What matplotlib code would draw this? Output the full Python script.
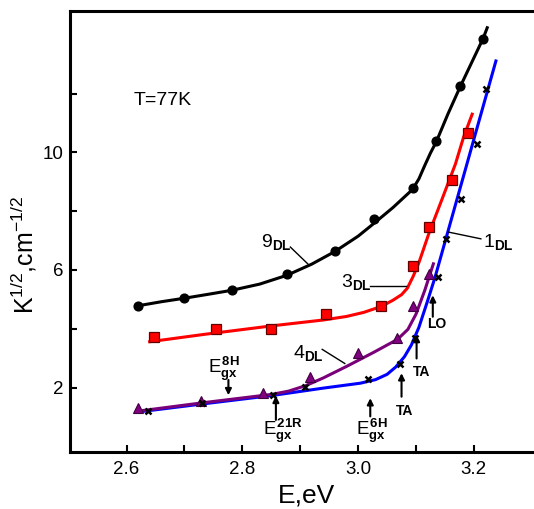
import matplotlib
matplotlib.use('Agg')
import matplotlib.pyplot as plt

plt.rcParams['font.family'] = ['Liberation Sans', 'DejaVu Sans']
plt.rcParams['mathtext.fontset'] = 'custom'
plt.rcParams['mathtext.rm'] = 'Liberation Sans'
plt.rcParams['mathtext.it'] = 'Liberation Sans'
plt.rcParams['mathtext.bf'] = 'Liberation Sans:bold'

# measured points, curve 9DL (black circles)
e_9dl = [2.619, 2.700, 2.782, 2.877, 2.960, 3.027, 3.094, 3.135, 3.176, 3.216]
k_9dl = [4.79, 5.06, 5.33, 5.85, 6.66, 7.73, 8.78, 10.38, 12.25, 13.86]
# fitted line for 9DL
e_9dl_fit = [2.616, 2.660, 2.700, 2.740, 2.782, 2.830, 2.877, 2.920, 2.960, 3.000, 3.027, 3.060, 3.094, 3.105, 3.115, 3.125, 3.135, 3.155, 3.176, 3.196, 3.216, 3.223]
k_9dl_fit = [4.77, 4.92, 5.04, 5.17, 5.31, 5.52, 5.82, 6.20, 6.63, 7.15, 7.58, 8.12, 8.74, 9.10, 9.55, 9.98, 10.36, 11.30, 12.22, 13.05, 13.88, 14.24]

# curve 3DL (red squares)
e_3dl = [2.648, 2.755, 2.849, 2.945, 3.040, 3.094, 3.122, 3.162, 3.189]
k_3dl = [3.71, 3.98, 3.98, 4.52, 4.78, 6.12, 7.46, 9.05, 10.66]
e_3dl_fit = [2.640, 2.734, 2.851, 2.940, 2.980, 3.010, 3.040, 3.060, 3.075, 3.085, 3.095, 3.105, 3.122, 3.144, 3.168, 3.182, 3.197]
k_3dl_fit = [3.56, 3.81, 4.10, 4.30, 4.42, 4.56, 4.76, 4.97, 5.16, 5.38, 5.78, 6.25, 7.23, 8.36, 9.60, 10.51, 11.30]

# curve 4DL (purple triangles)
e_4dl = [2.619, 2.728, 2.836, 2.917, 2.999, 3.067, 3.094, 3.122]
k_4dl = [1.30, 1.55, 1.83, 2.36, 3.16, 3.69, 4.77, 5.85]
e_4dl_fit = [2.628, 2.734, 2.851, 2.880, 2.910, 2.940, 2.980, 3.027, 3.068, 3.086, 3.100, 3.115, 3.130]
k_4dl_fit = [1.22, 1.49, 1.77, 1.88, 2.07, 2.33, 2.72, 3.20, 3.64, 3.98, 4.50, 5.30, 6.21]

# curve 1DL (x markers, blue line)
e_1dl = [2.637, 2.731, 2.853, 2.908, 3.017, 3.072, 3.099, 3.138, 3.151, 3.178, 3.206, 3.221]
k_1dl = [1.21, 1.49, 1.75, 2.03, 2.29, 2.79, 3.67, 5.76, 7.06, 8.40, 10.28, 12.15]
e_1dl_fit = [2.628, 2.734, 2.851, 2.939, 3.004, 3.030, 3.050, 3.065, 3.080, 3.092, 3.105, 3.120, 3.133, 3.150, 3.174, 3.203, 3.221, 3.238]
k_1dl_fit = [1.19, 1.45, 1.73, 1.98, 2.15, 2.27, 2.45, 2.70, 3.05, 3.45, 4.05, 4.95, 5.76, 6.95, 8.63, 10.66, 11.92, 13.11]

fig = plt.figure(figsize=(5.34, 5.09), dpi=100)
# right spine falls just outside the picture, as in the original
ax = fig.add_axes([0.1311, 0.1126, 0.919, 0.8664])

ax.plot(e_9dl_fit, k_9dl_fit, color='black', lw=2.2)
ax.plot(e_3dl_fit, k_3dl_fit, color='#ff0000', lw=2.2)
ax.plot(e_1dl_fit, k_1dl_fit, color='#0000ff', lw=2.2)
ax.plot(e_4dl_fit, k_4dl_fit, color='#7a007a', lw=2.2)

ax.plot(e_9dl, k_9dl, 'o', color='black', ms=6.3)
ax.plot(e_3dl, k_3dl, 's', mfc='#ff0000', mec='#600000', mew=0.9, ms=6.5)
ax.plot(e_4dl, k_4dl, '^', mfc='#800080', mec='#400040', mew=0.8, ms=6.5)
ax.plot(e_1dl, k_1dl, 'x', color='black', ms=5, mew=1.8)

ax.set_xlim(2.5024, 3.35)
ax.set_ylim(-0.18, 14.82)
ax.set_xticks([2.6, 2.8, 3.0, 3.2])
ax.set_xticklabels(['2.6', '2.8', '3.0', '3.2'])
ax.set_xticks([2.7, 2.9, 3.1], minor=True)
ax.set_yticks([2, 6, 10])
ax.set_yticks([4, 8, 12], minor=True)
ax.tick_params(which='both', direction='in', length=5, width=1.5, labelsize=13.5)
ax.tick_params(axis='x', pad=7)
ax.tick_params(axis='y', pad=5)
for s in ax.spines.values():
    s.set_linewidth(2.2)

fig.text(306 / 534, 1 - 496 / 509, 'E,eV', fontsize=19, ha='center', va='center')
fig.text(24 / 534, 1 - 255 / 509, r'K$^{1/2}$,cm$^{-1/2}$', fontsize=18,
         rotation=90, ha='center', va='center')

ax.text(2.613, 11.77, 'T=77K', fontsize=14, va='center', ha='left')

# curve labels with leader lines
ax.text(2.833, 6.78, r'$9_{\mathbf{DL}}$', fontsize=14, ha='left', va='baseline')
ax.plot([2.883, 2.913], [6.78, 6.21], color='black', lw=1)
ax.text(2.970, 5.42, r'$3_{\mathbf{DL}}$', fontsize=14, ha='left', va='baseline')
ax.plot([3.020, 3.083], [5.46, 5.46], color='black', lw=1)
ax.text(3.215, 6.78, r'$1_{\mathbf{DL}}$', fontsize=14, ha='left', va='baseline')
ax.plot([3.212, 3.156], [7.06, 7.29], color='black', lw=1)
ax.text(2.887, 2.99, r'$4_{\mathbf{DL}}$', fontsize=14, ha='left', va='baseline')
ax.plot([2.938, 2.977], [3.30, 2.82], color='black', lw=1)

# band gap and phonon markers
arrow = dict(arrowstyle='-|>', color='black', lw=1.5, mutation_scale=9, shrinkA=0, shrinkB=0)
ax.text(2.740, 2.51, r'$E^{\mathbf{8H}}_{\mathbf{gx}}$', fontsize=13.5, ha='left', va='baseline')
ax.annotate('', xy=(2.776, 1.74), xytext=(2.776, 2.26), arrowprops=arrow)
ax.text(2.835, 0.38, r'$E^{\mathbf{21R}}_{\mathbf{gx}}$', fontsize=13.5, ha='left', va='baseline')
ax.annotate('', xy=(2.858, 1.72), xytext=(2.858, 0.90), arrowprops=arrow)
ax.text(2.997, 0.38, r'$E^{\mathbf{6H}}_{\mathbf{gx}}$', fontsize=13.5, ha='left', va='baseline')
ax.annotate('', xy=(3.021, 1.64), xytext=(3.021, 1.02), arrowprops=arrow)

ax.text(3.081, 1.07, 'TA', fontsize=10, fontweight='bold', ha='center', va='baseline')
ax.annotate('', xy=(3.075, 2.49), xytext=(3.075, 1.69), arrowprops=arrow)
ax.text(3.109, 2.41, 'TA', fontsize=10, fontweight='bold', ha='center', va='baseline')
ax.annotate('', xy=(3.101, 3.79), xytext=(3.101, 2.99), arrowprops=arrow)
ax.text(3.135, 4.03, 'LO', fontsize=10, fontweight='bold', ha='center', va='baseline')
ax.annotate('', xy=(3.129, 5.14), xytext=(3.129, 4.41), arrowprops=arrow)

fig.savefig('out.png', dpi=100)
